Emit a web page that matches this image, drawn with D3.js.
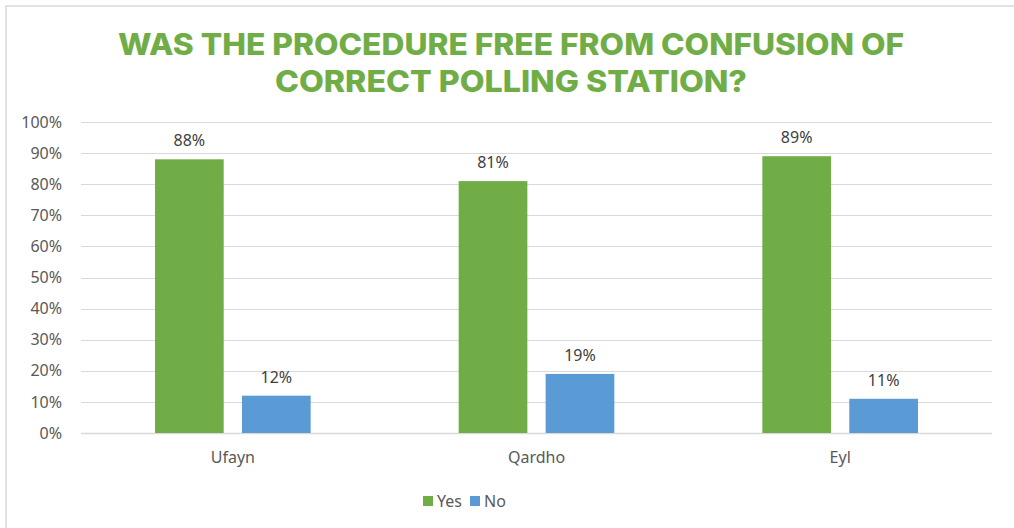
<!DOCTYPE html>
<html>
<head>
<meta charset="utf-8">
<script src="https://cdn.jsdelivr.net/npm/d3@7"></script>
<style>
  body { margin: 0; background: #fff; }
  svg { display: block; }
</style>
</head>
<body>
<div id="chart"></div>
<script>
// data
const categories = ["Ufayn", "Qardho", "Eyl"];
const seriesNames = ["Yes", "No"];
const yesValues = [0.88, 0.81, 0.89];
const noValues = [0.12, 0.19, 0.11];
const yTicks = [0, 0.1, 0.2, 0.3, 0.4, 0.5, 0.6, 0.7, 0.8, 0.9, 1.0];
const titleLines = ["WAS THE PROCEDURE FREE FROM CONFUSION OF", "CORRECT POLLING STATION?"];

const colors = { Yes: "#70AD47", No: "#5B9BD5" };

const W = 1014, H = 528;
const margin = { top: 122, right: 22, bottom: 95, left: 81 };
const width = W - margin.left - margin.right;
const height = H - margin.top - margin.bottom;

const svg = d3.select("#chart").append("svg")
    .attr("width", W)
    .attr("height", H);

// chart frame
svg.append("rect")
    .attr("x", 6).attr("y", 6)
    .attr("width", W + 10).attr("height", H + 10)
    .attr("fill", "none")
    .attr("stroke", "#d9d9d9")
    .attr("stroke-width", 1.5);

// title
const titleWidths = [786, 472];
svg.selectAll(".title")
    .data(titleLines)
  .enter().append("text")
    .attr("class", "title")
    .attr("x", 511)
    .attr("y", (d, i) => 55 + i * 37)
    .attr("text-anchor", "middle")
    .attr("fill", "#70AD47")
    .style("font-family", "Inter, 'Open Sans', sans-serif")
    .style("font-weight", 800)
    .style("font-size", "30px")
    .attr("textLength", (d, i) => titleWidths[i])
    .attr("lengthAdjust", "spacingAndGlyphs")
    .text(d => d);

const g = svg.append("g")
    .attr("transform", "translate(" + margin.left + "," + margin.top + ")");

const x0 = d3.scaleBand()
    .domain(categories)
    .range([0, width])
    .paddingInner(0)
    .paddingOuter(0);

const x1 = d3.scaleBand()
    .domain(seriesNames)
    .range([74, x0.bandwidth() - 74])
    .paddingInner(0.21);

const y = d3.scaleLinear()
    .domain([0, 1])
    .range([height, 0]);

// gridlines
g.selectAll(".grid")
    .data(yTicks)
  .enter().append("line")
    .attr("class", "grid")
    .attr("x1", 0).attr("x2", width)
    .attr("y1", d => Math.round(y(d)) + 0.5)
    .attr("y2", d => Math.round(y(d)) + 0.5)
    .attr("stroke", "#d9d9d9")
    .attr("stroke-width", d => d === 0 ? 1.5 : 1);

// y axis labels
const yAxis = d3.axisLeft(y)
    .tickValues(yTicks)
    .tickFormat(d3.format(".0%"))
    .tickSize(0)
    .tickPadding(19);

g.append("g")
    .call(yAxis)
    .call(s => s.select(".domain").remove())
    .selectAll("text")
    .attr("fill", "#595959")
    .style("font-family", "'Noto Sans', sans-serif")
    .style("font-size", "16px");

// x axis labels
const xAxis = d3.axisBottom(x0).tickSize(0).tickPadding(19);
g.append("g")
    .attr("transform", "translate(0," + height + ")")
    .call(xAxis)
    .call(s => s.select(".domain").remove())
    .selectAll("text")
    .attr("fill", "#595959")
    .style("font-family", "'Noto Sans', sans-serif")
    .style("font-size", "16px");

// bars
const rows = categories.map((c, i) => ({
    cat: c,
    values: [
        { key: "Yes", value: yesValues[i] },
        { key: "No", value: noValues[i] }
    ]
}));

const groups = g.selectAll(".group")
    .data(rows)
  .enter().append("g")
    .attr("class", "group")
    .attr("transform", d => "translate(" + x0(d.cat) + ",0)");

groups.selectAll("rect")
    .data(d => d.values)
  .enter().append("rect")
    .attr("x", d => x1(d.key))
    .attr("y", d => y(d.value))
    .attr("width", x1.bandwidth())
    .attr("height", d => height - y(d.value))
    .attr("fill", d => colors[d.key]);

groups.selectAll(".label")
    .data(d => d.values)
  .enter().append("text")
    .attr("class", "label")
    .attr("x", d => x1(d.key) + x1.bandwidth() / 2)
    .attr("y", d => y(d.value) - 13)
    .attr("text-anchor", "middle")
    .attr("fill", "#404040")
    .style("font-family", "'Noto Sans', sans-serif")
    .style("font-size", "16px")
    .text(d => d3.format(".0%")(d.value));

// legend
const legend = svg.append("g")
    .attr("transform", "translate(423,496)");

const legendItems = legend.selectAll(".legend-item")
    .data(seriesNames)
  .enter().append("g")
    .attr("class", "legend-item")
    .attr("transform", (d, i) => "translate(" + i * 47 + ",0)");

legendItems.append("rect")
    .attr("width", 10).attr("height", 10)
    .attr("fill", d => colors[d]);

legendItems.append("text")
    .attr("x", 14)
    .attr("y", 11)
    .attr("fill", "#595959")
    .style("font-family", "'Noto Sans', sans-serif")
    .style("font-size", "16px")
    .text(d => d);
</script>
</body>
</html>
